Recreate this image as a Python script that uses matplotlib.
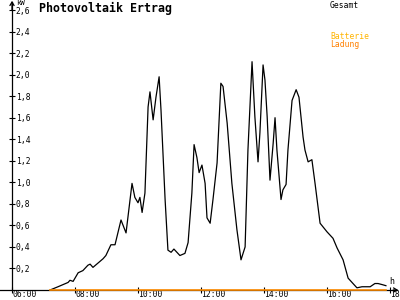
import numpy as np
import matplotlib
matplotlib.use('Agg')
import matplotlib.pyplot as plt

# Gesamt (kW) over time of day (hours)
hours = [7.21, 7.46, 7.78, 7.84, 7.94, 8.10, 8.25, 8.41, 8.48, 8.57, 8.73, 8.89, 8.98,
         9.14, 9.27, 9.46, 9.62, 9.81, 9.90, 10.00, 10.06, 10.13, 10.22, 10.32, 10.38,
         10.48, 10.57, 10.67, 10.73, 10.86, 10.95, 11.05, 11.14, 11.33, 11.49, 11.59,
         11.71, 11.78, 11.87, 11.94, 12.03, 12.13, 12.19, 12.29, 12.38, 12.51, 12.63,
         12.70, 12.83, 12.98, 13.14, 13.27, 13.40, 13.49, 13.62, 13.71, 13.81, 13.87,
         13.97, 14.03, 14.10, 14.19, 14.29, 14.35, 14.41, 14.54, 14.60, 14.70, 14.76,
         14.89, 15.02, 15.11, 15.24, 15.30, 15.40, 15.52, 15.62, 15.78, 16.00, 16.19,
         16.32, 16.51, 16.67, 16.95, 17.11, 17.37, 17.52, 17.62, 17.75, 17.87]
gesamt = [0.00, 0.03, 0.07, 0.09, 0.08, 0.16, 0.18, 0.23, 0.24, 0.21, 0.25, 0.29, 0.32,
          0.42, 0.42, 0.65, 0.53, 0.99, 0.86, 0.81, 0.86, 0.72, 0.90, 1.70, 1.84,
          1.58, 1.79, 1.98, 1.67, 0.84, 0.37, 0.35, 0.38, 0.32, 0.34, 0.44,
          0.90, 1.35, 1.23, 1.09, 1.16, 0.99, 0.67, 0.62, 0.84, 1.18, 1.92,
          1.89, 1.55, 0.99, 0.56, 0.28, 0.40, 1.30, 2.12, 1.61, 1.19, 1.46,
          2.09, 1.95, 1.61, 1.02, 1.36, 1.60, 1.30, 0.84, 0.93, 0.98, 1.30,
          1.76, 1.86, 1.79, 1.42, 1.30, 1.19, 1.21, 0.99, 0.62, 0.54, 0.48,
          0.39, 0.28, 0.11, 0.02, 0.03, 0.03, 0.06, 0.06, 0.05, 0.04]
ladung = [0.0] * len(hours)

yticks = [0.2, 0.4, 0.6, 0.8, 1.0, 1.2, 1.4, 1.6, 1.8, 2.0, 2.2, 2.4, 2.6]
xticks = [6, 8, 10, 12, 14, 16, 18]
xlabels = ['06:00', '08:00', '10:00', '12:00', '14:00', '16:00', '18:00']

mono = 'DejaVu Sans Mono'

fig = plt.figure(figsize=(4, 3), dpi=100)
ax = fig.add_axes([0, 0, 1, 1])
ax.set_xlim(5.619, 18.317)
ax.set_ylim(-0.093, 2.693)

ax.plot(hours, gesamt, color='black', lw=0.9)
ax.plot(hours, ladung, color='#FF8C00', lw=1.2, zorder=5)

for s in ['top', 'right']:
    ax.spines[s].set_visible(False)
ax.spines['left'].set_position(('data', 6))
ax.spines['bottom'].set_position(('data', 0))
ax.spines['left'].set_bounds(0, 2.67)
ax.spines['bottom'].set_bounds(5.619, 18.22)
ax.spines['left'].set_linewidth(0.9)
ax.spines['bottom'].set_linewidth(0.9)

ax.annotate('', xy=(6, 2.685), xytext=(6, 2.6),
            arrowprops=dict(arrowstyle='->,head_length=0.25,head_width=0.15', lw=0.9,
                            color='black', shrinkA=0, shrinkB=0))
ax.annotate('', xy=(18.26, 0), xytext=(18.1, 0),
            arrowprops=dict(arrowstyle='->,head_length=0.25,head_width=0.15', lw=0.9,
                            color='black', shrinkA=0, shrinkB=0))

ax.set_yticks(yticks)
ax.set_yticklabels([('%.1f' % v).replace('.', ',') for v in yticks])
ax.set_xticks(xticks)
ax.set_xticklabels(xlabels)
ax.tick_params(axis='both', direction='inout', length=4, width=0.8, labelsize=5.8)
ax.tick_params(axis='y', pad=-4.6)
ax.tick_params(axis='x', pad=-1.8)
for lab in ax.get_yticklabels():
    lab.set_horizontalalignment('left')
    lab.set_fontfamily(mono)
for lab in ax.get_xticklabels():
    lab.set_horizontalalignment('left')
    lab.set_fontfamily(mono)

ax.text(6.12, 2.665, 'kW', fontsize=5.2, family=mono, va='center', ha='left')
ax.text(17.97, 0.075, 'h', fontsize=6, family=mono, va='center', ha='left')

fig.text(39 / 400, 1 - 2 / 300, 'Photovoltaik Ertrag', fontsize=8.4, family=mono,
         fontweight='bold', va='top', ha='left')
fig.text(330 / 400, 1 - 1 / 300, 'Gesamt', fontsize=5.8, family=mono, color='black',
         va='top', ha='left')
fig.text(330 / 400, 1 - 32 / 300, 'Batterie', fontsize=5.8, family=mono, color='#FFB400',
         va='top', ha='left')
fig.text(330 / 400, 1 - 40 / 300, 'Ladung', fontsize=5.8, family=mono, color='#FF8000',
         va='top', ha='left')

fig.savefig('out.png', dpi=100)
